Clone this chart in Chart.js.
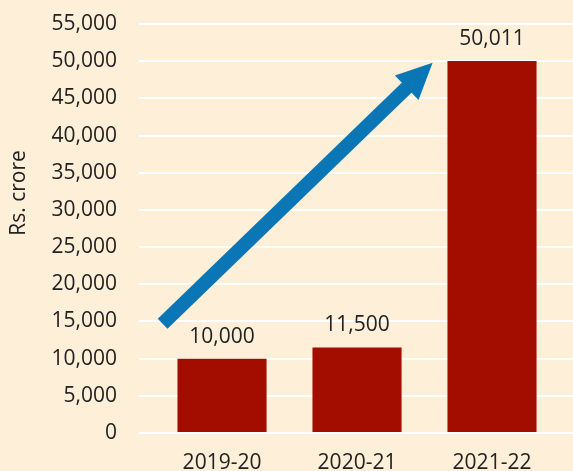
<!DOCTYPE html>
<html>
<head>
<meta charset="utf-8">
<script src="https://cdn.jsdelivr.net/npm/chart.js@4.4.1/dist/chart.umd.min.js"></script>
<style>
  html, body { margin: 0; padding: 0; background: #FDEFD8; }
  #wrap { width: 573px; height: 471px; }
</style>
</head>
<body>
<div id="wrap"><canvas id="chart" width="573" height="471"></canvas></div>
<script>
// --- DATA ---
const years = ['2019-20', '2020-21', '2021-22'];
const values = [10000, 11500, 50011];
const yTicks = [0, 5000, 10000, 15000, 20000, 25000, 30000, 35000, 40000, 45000, 50000, 55000];
const yTitle = 'Rs. crore';
// arrow in data space: [x, y]
const arrowFrom = [-0.44, 14700];
const arrowTo = [1.56, 49800];

const FONT = '"Open Sans", "Noto Sans", sans-serif';
const fmt = v => v.toLocaleString('en-US');

// draw value labels over the bars
const barLabels = {
    id: 'barLabels',
    afterDatasetsDraw(chart) {
        const ctx = chart.ctx;
        const meta = chart.getDatasetMeta(0);
        ctx.save();
        ctx.font = '21px ' + FONT;
        ctx.fillStyle = '#222';
        ctx.textAlign = 'center';
        ctx.textBaseline = 'middle';
        meta.data.forEach((bar, i) => {
            ctx.fillText(fmt(values[i]), bar.x, bar.y - 22);
        });
        ctx.restore();
    }
};

// blue trend arrow
const trendArrow = {
    id: 'trendArrow',
    afterDatasetsDraw(chart) {
        const { ctx, scales: { x, y } } = chart;
        const x0 = x.getPixelForValue(arrowFrom[0]), y0 = y.getPixelForValue(arrowFrom[1]);
        const x1 = x.getPixelForValue(arrowTo[0]), y1 = y.getPixelForValue(arrowTo[1]);
        const ang = Math.atan2(y1 - y0, x1 - x0);
        const headLen = 36, headW = 17;
        const bx = x1 - headLen * Math.cos(ang), by = y1 - headLen * Math.sin(ang);
        ctx.save();
        ctx.strokeStyle = '#0B76B5';
        ctx.fillStyle = '#0B76B5';
        ctx.lineWidth = 14;
        ctx.lineCap = 'butt';
        ctx.beginPath();
        ctx.moveTo(x0, y0);
        ctx.lineTo(bx + 2 * Math.cos(ang), by + 2 * Math.sin(ang));
        ctx.stroke();
        ctx.beginPath();
        ctx.moveTo(x1, y1);
        ctx.lineTo(bx + headW * Math.sin(ang), by - headW * Math.cos(ang));
        ctx.lineTo(bx - headW * Math.sin(ang), by + headW * Math.cos(ang));
        ctx.closePath();
        ctx.fill();
        ctx.restore();
    }
};

// y axis title, placed like the original
const axisTitle = {
    id: 'axisTitle',
    afterDraw(chart) {
        const ctx = chart.ctx;
        ctx.save();
        ctx.translate(19, 193);
        ctx.rotate(-Math.PI / 2);
        ctx.font = '21px ' + FONT;
        ctx.fillStyle = '#222';
        ctx.textAlign = 'center';
        ctx.textBaseline = 'middle';
        ctx.fillText(yTitle, 0, 0);
        ctx.restore();
    }
};

new Chart(document.getElementById('chart'), {
    type: 'bar',
    data: {
        datasets: [{
            data: values.map((v, i) => ({ x: i, y: v })),
            backgroundColor: '#A30D00',
            borderWidth: 0,
            barPercentage: 0.66,
            categoryPercentage: 1
        }]
    },
    options: {
        responsive: false,
        animation: false,
        layout: { padding: { top: 24, right: 0, left: 0, bottom: 0 } },
        plugins: { legend: { display: false }, tooltip: { enabled: false } },
        scales: {
            x: {
                type: 'linear',
                offset: false,
                min: -0.615,
                max: 2.6,
                afterBuildTicks: scale => { scale.ticks = years.map((_, i) => ({ value: i })); },
                afterFit: scale => { scale.height = 38; scale.paddingLeft = 0; scale.paddingRight = 0; },
                ticks: {
                    callback: v => years[v],
                    font: { size: 21, family: FONT },
                    color: '#222',
                    padding: 9,
                    maxRotation: 0
                },
                grid: { display: false, offset: false },
                border: { display: false }
            },
            y: {
                min: 0,
                max: 55000,
                afterBuildTicks: scale => { scale.ticks = yTicks.map(v => ({ value: v })); },
                afterFit: scale => { scale.width = 139; scale.paddingTop = 0; scale.paddingBottom = 0; },
                ticks: {
                    callback: v => fmt(v),
                    font: { size: 21, family: FONT },
                    color: '#222',
                    padding: 22
                },
                grid: { color: '#FFFFFF', lineWidth: 2, drawTicks: false },
                border: { display: false }
            }
        }
    },
    plugins: [barLabels, trendArrow, axisTitle]
});
</script>
</body>
</html>
